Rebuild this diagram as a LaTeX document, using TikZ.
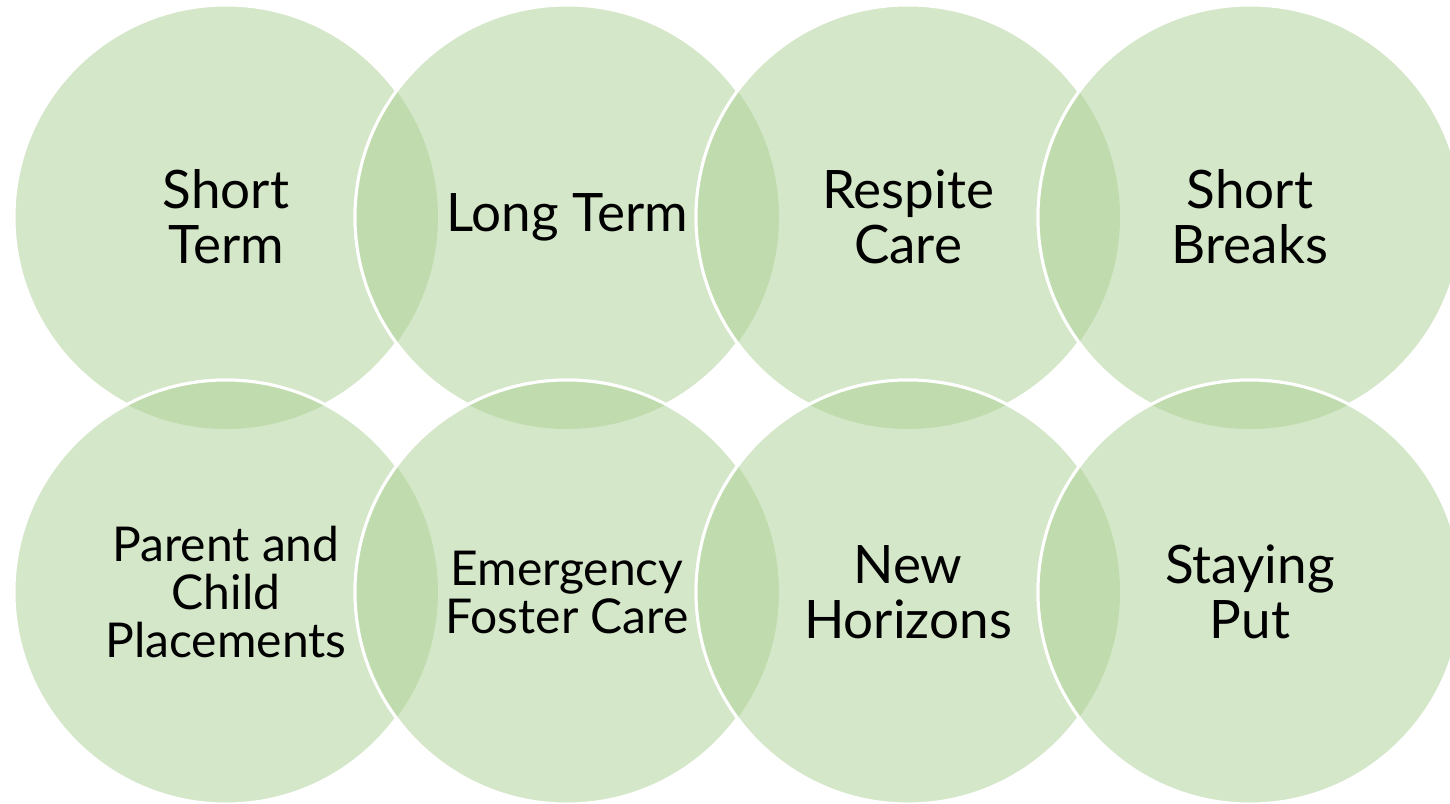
\documentclass[tikz,border=0pt]{standalone}
\usepackage{fontspec}
\setmainfont{Lato}
\usepackage{tikz}
\definecolor{vennfill}{RGB}{213,231,201}
\definecolor{vennlens}{RGB}{192,220,174}
\def\rad{106pt}

\begin{document}
\begin{tikzpicture}[x=0.5pt, y=-0.5pt,
    venn/.style={circle, minimum size=212pt, inner sep=0pt, fill=vennfill, draw=white, line width=1.5pt},
    ring/.style={draw=white, line width=1.5pt},
    lbl/.style={align=center, font=\fontsize{26.5}{27.5}\selectfont},
    lbls/.style={align=center, font=\fontsize{24}{24}\selectfont}]
\useasboundingbox (0,0) rectangle (1450,803);
\node[venn] (sterm) at (226,217) {};
\node[venn] (lterm) at (567,217) {};
\node[venn] (respite) at (908,217) {};
\node[venn] (sbreak) at (1250,217) {};
\node[venn] (parent) at (226,592) {};
\node[venn] (emerg) at (567,592) {};
\node[venn] (newhor) at (908,592) {};
\node[venn] (stayput) at (1250,592) {};
\foreach \a/\b in {sterm/lterm, lterm/respite, respite/sbreak, parent/emerg, emerg/newhor, newhor/stayput,
    sterm/parent, lterm/emerg, respite/newhor, sbreak/stayput} {
  \begin{scope}
    \clip (\a.center) circle (\rad);
    \fill[vennlens] (\b.center) circle (\rad);
    \draw[ring] (\b.center) circle (\rad);
  \end{scope}
}
\node[lbl] at (sterm) {Short\\Term};
\node[lbl] at (lterm) {Long Term};
\node[lbl] at (respite) {Respite\\Care};
\node[lbl] at (sbreak) {Short\\Breaks};
\node[lbls] at (parent) {Parent and\\Child\\Placements};
\node[lbls] at (emerg) {Emergency\\Foster Care};
\node[lbl] at (newhor) {New\\Horizons};
\node[lbl] at (stayput) {Staying\\Put};
\end{tikzpicture}
\end{document}
